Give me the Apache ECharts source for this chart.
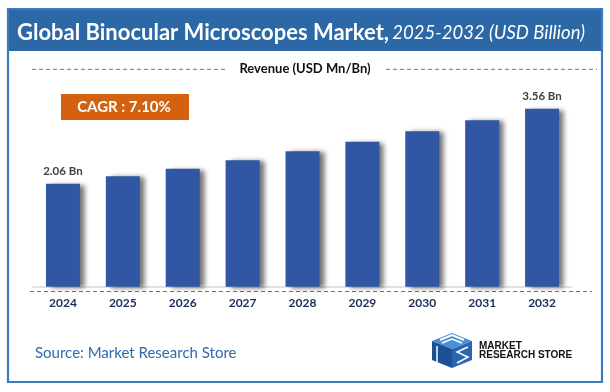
<!DOCTYPE html>
<html>
<head>
<meta charset="utf-8">
<script src="https://cdn.jsdelivr.net/npm/echarts@6/dist/echarts.min.js"></script>
<style>
html,body{margin:0;padding:0;background:#fff;}
#chart{width:610px;height:392px;}
</style>
</head>
<body>
<div id="chart"></div>
<script>
const categories = ['2024','2025','2026','2027','2028','2029','2030','2031','2032'];
const revenue = [2.06, 2.21, 2.36, 2.53, 2.71, 2.90, 3.11, 3.33, 3.56];
const labelIndexes = [0, 8];
const titleMain = 'Global Binocular Microscopes Market,';
const titleSub = '2025-2032 (USD Billion)';
const legendText = 'Revenue (USD Mn/Bn)';
const cagrText = 'CAGR : 7.10%';
const sourceText = 'Source: Market Research Store';

const chart = echarts.init(document.getElementById('chart'), null, {renderer:'canvas'});
const FONT = 'Lato, "Open Sans", sans-serif';

const option = {
  backgroundColor: '#ffffff',
  animation: false,
  grid: {left: 33, right: 38, top: 86.7, bottom: 105.3},
  xAxis: {
    type: 'category',
    data: categories,
    axisLine: {show: true, lineStyle: {color: '#d9d9d9', width: 1.5}},
    axisTick: {show: false},
    axisLabel: {color: '#1f3060', fontFamily: FONT, fontWeight: 'bold', fontSize: 12, margin: 10}
  },
  yAxis: {
    type: 'value', min: 0, max: 4, interval: 1,
    show: false,
    splitLine: {show: false}
  },
  series: [{
    type: 'bar',
    data: revenue.map((v, i) => ({
      value: v,
      label: {show: labelIndexes.indexOf(i) >= 0}
    })),
    barWidth: 34,
    itemStyle: {
      color: '#3157a4',
      shadowColor: 'rgba(0,0,0,0.55)',
      shadowBlur: 5,
      shadowOffsetX: 5,
      shadowOffsetY: 1
    },
    label: {
      position: 'top',
      distance: 6,
      color: '#404040',
      fontFamily: FONT,
      fontWeight: 'bold',
      fontSize: 11.5,
      formatter: p => p.value.toFixed(2) + ' Bn'
    }
  }],
  graphic: [
    {type: 'rect', shape: {x: 8, y: 9, width: 594, height: 373}, style: {fill: 'none', stroke: '#3b7bc2', lineWidth: 2.2}, z: 100},
    {type: 'rect', shape: {x: 8, y: 9, width: 594, height: 42}, style: {fill: '#2c68a6'}, z: 99},
    {type: 'text', x: 17, y: 33, z: 101, style: {
      text: '{a|' + titleMain + '} {b|' + titleSub + '}',
      verticalAlign: 'middle',
      rich: {
        a: {fill: '#ffffff', fontFamily: FONT, fontWeight: 'bold', fontSize: 22},
        b: {fill: '#ffffff', fontFamily: FONT, fontStyle: 'italic', fontSize: 18.5}
      }
    }},
    {type: 'line', shape: {x1: 32, y1: 69.3, x2: 225, y2: 69.3}, style: {stroke: '#4a78c0', lineWidth: 1, lineDash: [4, 3]}},
    {type: 'line', shape: {x1: 386, y1: 69.3, x2: 597, y2: 69.3}, style: {stroke: '#4a78c0', lineWidth: 1, lineDash: [4, 3]}},
    {type: 'text', x: 305, y: 68.5, style: {text: legendText, fill: '#111111', fontFamily: FONT, fontWeight: 'bold', fontSize: 13, align: 'center', verticalAlign: 'middle'}},
    {type: 'rect', shape: {x: 61, y: 94, width: 128, height: 26}, style: {fill: '#d4610f'}},
    {type: 'text', x: 124, y: 107.5, style: {text: cagrText, fill: '#ffffff', fontFamily: FONT, fontWeight: 'bold', fontSize: 15, align: 'center', verticalAlign: 'middle'}},
    {type: 'line', shape: {x1: 30, y1: 291.5, x2: 592, y2: 291.5}, style: {stroke: '#4a78c0', lineWidth: 1, lineDash: [4, 3]}},
    {type: 'text', x: 35, y: 353, style: {text: sourceText, fill: '#2e6bb0', fontFamily: FONT, fontSize: 15, verticalAlign: 'middle'}},
    // logo cube
    {type: 'polygon', shape: {points: [[452,333],[472,341],[452,349],[432,341]]}, style: {fill: '#4a8fd6'}},
    {type: 'polygon', shape: {points: [[432,341],[452,349],[452,368],[432,360]]}, style: {fill: '#1d4f96'}},
    {type: 'polygon', shape: {points: [[452,349],[472,341],[472,360],[452,368]]}, style: {fill: '#2a64b3'}},
    {type: 'polyline', shape: {points: [[440,340],[452,335],[464,340]]}, style: {stroke: '#ffffff', lineWidth: 2, fill: 'none'}},
    {type: 'polyline', shape: {points: [[442,343],[452,339],[462,343]]}, style: {stroke: '#ffffff', lineWidth: 1.5, fill: 'none'}},
    {type: 'polyline', shape: {points: [[437,346],[437,362]]}, style: {stroke: '#ffffff', lineWidth: 1.5, fill: 'none'}},
    {type: 'polyline', shape: {points: [[468,347],[457,352],[468,357],[457,363]]}, style: {stroke: '#ffffff', lineWidth: 1.5, fill: 'none'}},
    {type: 'text', x: 479, y: 346, style: {text: 'MARKET', fill: '#111111', fontFamily: '"Liberation Sans", Arial, sans-serif', fontWeight: 'bold', fontSize: 10, verticalAlign: 'middle'}},
    {type: 'text', x: 479, y: 355.5, style: {text: 'RESEARCH STORE', fill: '#111111', fontFamily: '"Liberation Sans", Arial, sans-serif', fontWeight: 'bold', fontSize: 10, verticalAlign: 'middle'}}
  ]
};
chart.setOption(option);
</script>
</body>
</html>
